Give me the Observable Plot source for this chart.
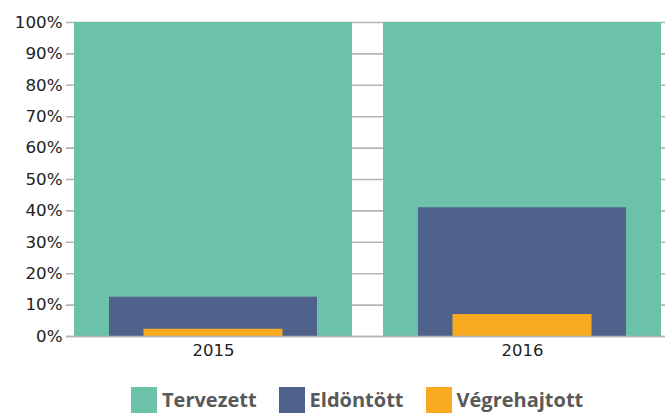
<!DOCTYPE html>
<html><head><meta charset="utf-8">
<script src="https://cdn.jsdelivr.net/npm/d3@7"></script>
<script src="https://cdn.jsdelivr.net/npm/@observablehq/plot@0.6"></script>
<style>
body{margin:0;background:#fff;}
#wrap{position:relative;width:665px;height:414px;}
#legend{position:absolute;left:131px;top:387px;display:flex;align-items:center;font-family:"Open Sans",sans-serif;font-weight:700;font-size:20px;color:#595959;line-height:26px;}
.item{display:flex;align-items:center;margin-right:22px;}
.sw{width:26px;height:26px;margin-right:5px;}
</style></head>
<body><div id="wrap"><div id="chart"></div><div id="legend"></div></div>
<script>
const years = ["2015", "2016"];
const series = ["Tervezett", "Eldöntött", "Végrehajtott"];
const tervezett = [100, 100];
const eldontott = [12.5, 41];
const vegrehajtott = [2.3, 7];
const colors = ["#6cc1a9", "#4f628c", "#f8ab20"];
const yTicks = [0,10,20,30,40,50,60,70,80,90,100];

const rows = (vals) => years.map((y,i)=>({year:y, value:vals[i]}));

const chart = Plot.plot({
  width: 665, height: 365,
  marginLeft: 66, marginRight: 0, marginTop: 22, marginBottom: 29,
  style: {fontFamily: "DejaVu Sans, sans-serif", fontSize: "16px", color: "#222", background: "#fff"},
  x: {domain: years, range: [74, 661], paddingInner: 31/309, paddingOuter: 0, label: null},
  y: {domain: [0, 100], label: null},
  marks: [
    Plot.ruleY(yTicks, {stroke: "#b4b4b4", strokeWidth: 1.6}),
    Plot.barY(rows(tervezett), {x: "year", y: "value", fill: colors[0]}),
    Plot.barY(rows(eldontott), {x: "year", y: "value", fill: colors[1], insetLeft: 35, insetRight: 35}),
    Plot.barY(rows(vegrehajtott), {x: "year", y: "value", fill: colors[2], insetLeft: 69.5, insetRight: 69.5}),
    Plot.ruleY([0], {stroke: "#b4b4b4", strokeWidth: 1.6}),
    Plot.axisY({ticks: yTicks, tickFormat: d => d + "%", tickSize: 0, tickPadding: 4, fontSize: 16.7, label: null}),
    Plot.axisX({tickSize: 0, tickPadding: 8, fontSize: 16.5, label: null})
  ]
});
document.getElementById("chart").appendChild(chart);

const legend = document.getElementById("legend");
series.forEach((s,i)=>{
  const it = document.createElement("div"); it.className="item";
  const sw = document.createElement("div"); sw.className="sw"; sw.style.background = colors[i];
  const t = document.createElement("span"); t.textContent = s;
  it.appendChild(sw); it.appendChild(t); legend.appendChild(it);
});
</script></body></html>
